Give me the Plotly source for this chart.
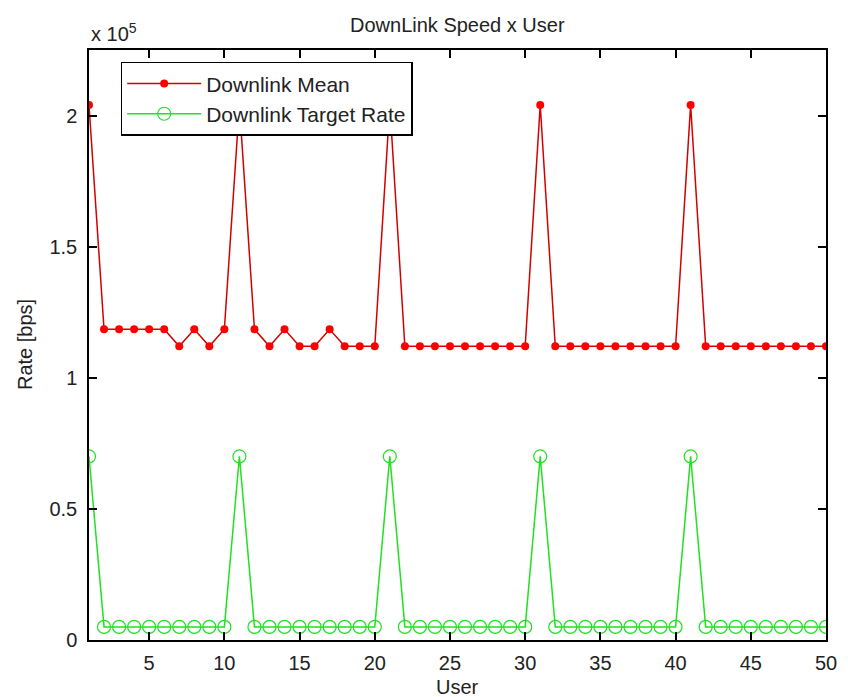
import plotly.graph_objects as go

# Users 1..50
users = list(range(1, 51))

# Mean downlink rate per user (bps)
downlink_mean = [
    204000, 118500, 118500, 118500, 118500, 118500, 112000, 118500, 112000, 118500,
    204000, 118500, 112000, 118500, 112000, 112000, 118500, 112000, 112000, 112000,
    204000, 112000, 112000, 112000, 112000, 112000, 112000, 112000, 112000, 112000,
    204000, 112000, 112000, 112000, 112000, 112000, 112000, 112000, 112000, 112000,
    204000, 112000, 112000, 112000, 112000, 112000, 112000, 112000, 112000, 112000,
]

# Target downlink rate per user (bps)
downlink_target = [
    70000, 5000, 5000, 5000, 5000, 5000, 5000, 5000, 5000, 5000,
    70000, 5000, 5000, 5000, 5000, 5000, 5000, 5000, 5000, 5000,
    70000, 5000, 5000, 5000, 5000, 5000, 5000, 5000, 5000, 5000,
    70000, 5000, 5000, 5000, 5000, 5000, 5000, 5000, 5000, 5000,
    70000, 5000, 5000, 5000, 5000, 5000, 5000, 5000, 5000, 5000,
]

x_ticks = [5, 10, 15, 20, 25, 30, 35, 40, 45, 50]
y_ticks = [0, 50000, 100000, 150000, 200000]
y_tick_text = ["0", "0.5", "1", "1.5", "2"]

FONT = "Liberation Sans, Arial, sans-serif"
FS = 20
TXT = "#222"

fig = go.Figure()
fig.add_trace(go.Scatter(
    x=users, y=downlink_mean, mode="lines+markers", name="Downlink Mean",
    line=dict(color="#d40000", width=1.5),
    marker=dict(symbol="circle", size=8, color="#ff0000"),
))
fig.add_trace(go.Scatter(
    x=users, y=downlink_target, mode="lines+markers", name="Downlink Target Rate",
    line=dict(color="#22e022", width=1.5),
    marker=dict(symbol="circle-open", size=13, color="#22e022", line=dict(width=1.2)),
))

axis_common = dict(
    showline=True, linecolor="black", linewidth=1.5, mirror="ticks",
    ticks="inside", ticklen=8, tickwidth=1.5, tickcolor="black",
    showgrid=False, zeroline=False,
    tickfont=dict(family=FONT, size=FS, color=TXT),
)

fig.update_xaxes(range=[1, 50], tickvals=x_ticks, ticklabelstandoff=4, **axis_common)
fig.update_yaxes(range=[0, 225000], tickvals=y_ticks, ticktext=y_tick_text,
                 ticklabelstandoff=6, **axis_common)

def label(text, **kw):
    base = dict(text=text, xref="paper", yref="paper", showarrow=False,
                xanchor="center", yanchor="middle",
                font=dict(family=FONT, size=FS, color=TXT))
    base.update(kw)
    return base

fig.update_layout(
    width=848, height=697,
    margin=dict(l=89, r=11, t=50, b=57),
    paper_bgcolor="white", plot_bgcolor="white",
    showlegend=True,
    legend=dict(
        x=0.043, y=0.98, xanchor="left", yanchor="top",
        bordercolor="black", borderwidth=1.5, bgcolor="white",
        font=dict(family=FONT, size=21, color=TXT),
        itemwidth=74, tracegroupgap=0,
    ),
    annotations=[
        label("DownLink Speed x User", x=0.5, y=1, yshift=25),
        label("User", x=0.5, y=0, yshift=-47),
        label("Rate [bps]", x=0, y=0.5, xshift=-64, textangle=-90),
        label("x 10<sup>5</sup>", x=0, y=1, xanchor="left", xshift=0, yshift=18),
    ],
)

fig.write_html("out.html")
